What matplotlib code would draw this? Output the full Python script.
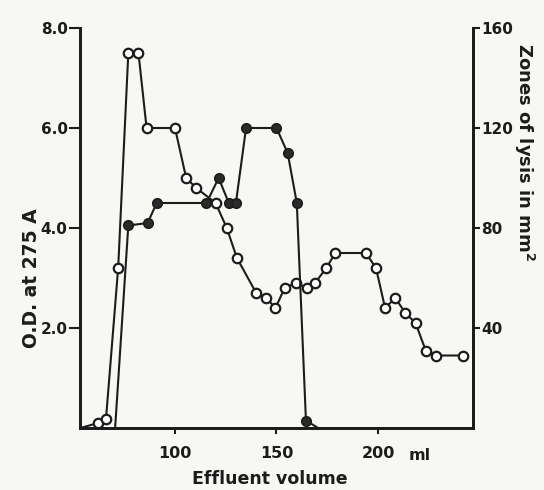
import matplotlib
matplotlib.use("Agg")
import matplotlib.pyplot as plt

# Open circles: O.D. at 275 A (left axis)
od_volume = [53.5, 62, 66, 72, 77, 82, 86, 100, 105.5, 110.5, 120, 125.5, 130.5, 140,
             145, 149.5, 154, 159.5, 165, 169, 174.5, 179, 194, 199, 203.5, 208.5,
             213.5, 218.5, 223.5, 228.5, 242]
od_value = [0.0, 0.1, 0.18, 3.2, 7.5, 7.5, 6.0, 6.0, 5.0, 4.8, 4.5, 4.0, 3.4, 2.7,
            2.6, 2.4, 2.8, 2.9, 2.8, 2.9, 3.2, 3.5, 3.5, 3.2, 2.4, 2.6,
            2.3, 2.1, 1.55, 1.45, 1.45]

# Filled circles: zones of lysis in mm^2 (right axis)
lysis_volume = [70.5, 77, 86.5, 91, 115.5, 121.5, 126.5, 130, 135, 150, 155.5, 160, 164.5, 170.5]
lysis_value = [0, 81, 82, 90, 90, 100, 90, 90, 120, 120, 110, 90, 3, 0]

left_ticks = [2.0, 4.0, 6.0, 8.0]
left_labels = ["2.0", "4.0", "6.0", "8.0"]
right_ticks = [40, 80, 120, 160]
x_ticks = [100, 150, 200]

ink = "#1c1c1c"
bg = "#f7f7f4"
plt.rcParams['font.family'] = ['DejaVu Sans']
plt.rcParams['font.weight'] = 'bold'

fig = plt.figure(figsize=(5.44, 4.90), dpi=100, facecolor=bg)
ax = fig.add_axes([80/544, (490-428)/490, (473-80)/544, (428-28)/490])
ax.set_facecolor(bg)
ax2 = ax.twinx()

ax.plot(od_volume, od_value, color=ink, lw=1.5, marker='o', ms=6.8,
        mfc='white', mec=ink, mew=1.6, markevery=list(range(1, len(od_volume))), zorder=3)
ax2.plot(lysis_volume, lysis_value, color=ink, lw=1.5, marker='o', ms=6.8,
         mfc='#2a2a2a', mec=ink, mew=1.2, markevery=list(range(1, len(lysis_volume) - 1)), zorder=3)

ax.set_xlim(53.2, 246.8)
ax.set_ylim(0, 8)
ax2.set_ylim(0, 160)

for a in (ax, ax2):
    a.spines['top'].set_visible(False)
    for s in ('left', 'right', 'bottom'):
        a.spines[s].set_linewidth(2.0)
        a.spines[s].set_color(ink)

ax.set_yticks(left_ticks)
ax.set_yticklabels(left_labels, fontsize=11, fontweight='bold', color=ink)
ax.set_xticks(x_ticks)
ax.set_xticklabels([str(v) for v in x_ticks], fontsize=11.5, fontweight='bold', color=ink)
ax2.set_yticks(right_ticks)
ax2.set_yticklabels([str(v) for v in right_ticks], fontsize=11, fontweight='bold', color=ink)

ax.tick_params(axis='y', direction='out', length=8, width=1.5, colors=ink, pad=1)
ax.tick_params(axis='x', direction='out', length=4, width=1.5, colors=ink, pad=9)
ax2.tick_params(axis='y', direction='out', length=5, width=1.5, colors=ink, pad=1)

ax.set_ylabel("O.D. at 275 A", fontsize=13.5, fontweight='bold', color=ink)
ax.yaxis.set_label_coords(-0.10, 0.375)
ax2.set_ylabel("Zones of lysis in mm$^\\mathbf{2}$", fontsize=13, fontweight='bold',
               color=ink, rotation=-90)
ax2.yaxis.set_label_coords(1.16, 0.69)
ax.set_xlabel("Effluent volume", fontsize=12.5, fontweight='bold', color=ink)
ax.xaxis.set_label_coords(0.483, -0.105)
ax.text(220.5, -0.55, "ml", fontsize=11.5, fontweight='bold', color=ink, ha='center', va='center')

fig.savefig("out.png", dpi=100, facecolor=bg)
